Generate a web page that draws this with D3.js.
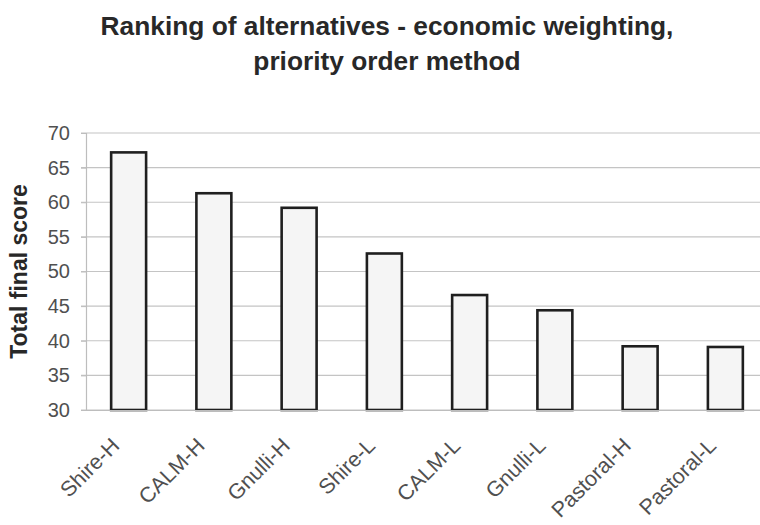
<!DOCTYPE html>
<html>
<head>
<meta charset="utf-8">
<script src="https://cdn.jsdelivr.net/npm/d3@7"></script>
<style>
  html, body { margin: 0; padding: 0; background: #fff; }
  svg { display: block; font-family: "Liberation Sans", Arial, sans-serif; }
</style>
</head>
<body>
<svg id="chart" width="760" height="525"></svg>
<script>
// Alternatives ranked by total final score
const categories = ["Shire-H", "CALM-H", "Gnulli-H", "Shire-L", "CALM-L", "Gnulli-L", "Pastoral-H", "Pastoral-L"];
const scores = [67.2, 61.3, 59.2, 52.6, 46.6, 44.4, 39.2, 39.1];
const yTicks = [30, 35, 40, 45, 50, 55, 60, 65, 70];
const titleLines = ["Ranking of alternatives - economic weighting,", "priority order method"];
const yTitle = "Total final score";

const svg = d3.select("#chart");
const plot = { left: 86, right: 768, top: 133, bottom: 410 };

const x = d3.scaleBand()
  .domain(categories)
  .range([plot.left, plot.right])
  .paddingInner(0.59)
  .paddingOuter(0.295);

const y = d3.scaleLinear()
  .domain([30, 70])
  .range([plot.bottom, plot.top]);

// Title
svg.append("g")
  .selectAll("text")
  .data(titleLines)
  .join("text")
  .attr("x", 387)
  .attr("y", (d, i) => 35 + i * 35)
  .attr("text-anchor", "middle")
  .attr("font-size", 26.3)
  .attr("font-weight", "bold")
  .attr("fill", "#282828")
  .text(d => d);

// Horizontal gridlines
svg.append("g")
  .selectAll("line")
  .data(yTicks)
  .join("line")
  .attr("x1", plot.left - 5)
  .attr("x2", plot.right)
  .attr("y1", d => y(d))
  .attr("y2", d => y(d))
  .attr("stroke", "#c4c4c4")
  .attr("stroke-width", 1.2);

// Value axis
const yAxis = svg.append("g")
  .attr("transform", `translate(${plot.left},0)`)
  .call(d3.axisLeft(y).tickValues(yTicks).tickSize(5).tickPadding(11));
yAxis.select(".domain").attr("stroke", "#bdbdbd").attr("stroke-width", 1.2);
yAxis.selectAll(".tick line").attr("stroke", "#bdbdbd");
yAxis.selectAll(".tick text")
  .attr("font-size", 20)
  .attr("fill", "#505050")
  .attr("font-family", "Liberation Sans, Arial, sans-serif");

// Axis title
svg.append("text")
  .attr("transform", `translate(27,${(plot.top + plot.bottom) / 2}) rotate(-90)`)
  .attr("text-anchor", "middle")
  .attr("font-size", 23)
  .attr("font-weight", "bold")
  .attr("fill", "#282828")
  .text(yTitle);

// Bars
svg.append("g")
  .selectAll("rect")
  .data(categories)
  .join("rect")
  .attr("x", d => x(d))
  .attr("width", x.bandwidth())
  .attr("y", (d, i) => y(scores[i]))
  .attr("height", (d, i) => y(30) - y(scores[i]))
  .attr("fill", "#f5f5f5")
  .attr("stroke", "#1f1f1f")
  .attr("stroke-width", 2.6);

// Category axis
const xAxis = svg.append("g")
  .attr("transform", `translate(0,${plot.bottom})`)
  .call(d3.axisBottom(x).tickSize(0).tickPadding(0));
xAxis.select(".domain").attr("stroke", "#bdbdbd").attr("stroke-width", 1.2);
xAxis.selectAll(".tick text")
  .attr("font-size", 21.5)
  .attr("fill", "#505050")
  .attr("font-family", "Liberation Sans, Arial, sans-serif")
  .attr("text-anchor", "end")
  .attr("dy", 0)
  .attr("transform", "translate(-8,37) rotate(-45)");
</script>
</body>
</html>
